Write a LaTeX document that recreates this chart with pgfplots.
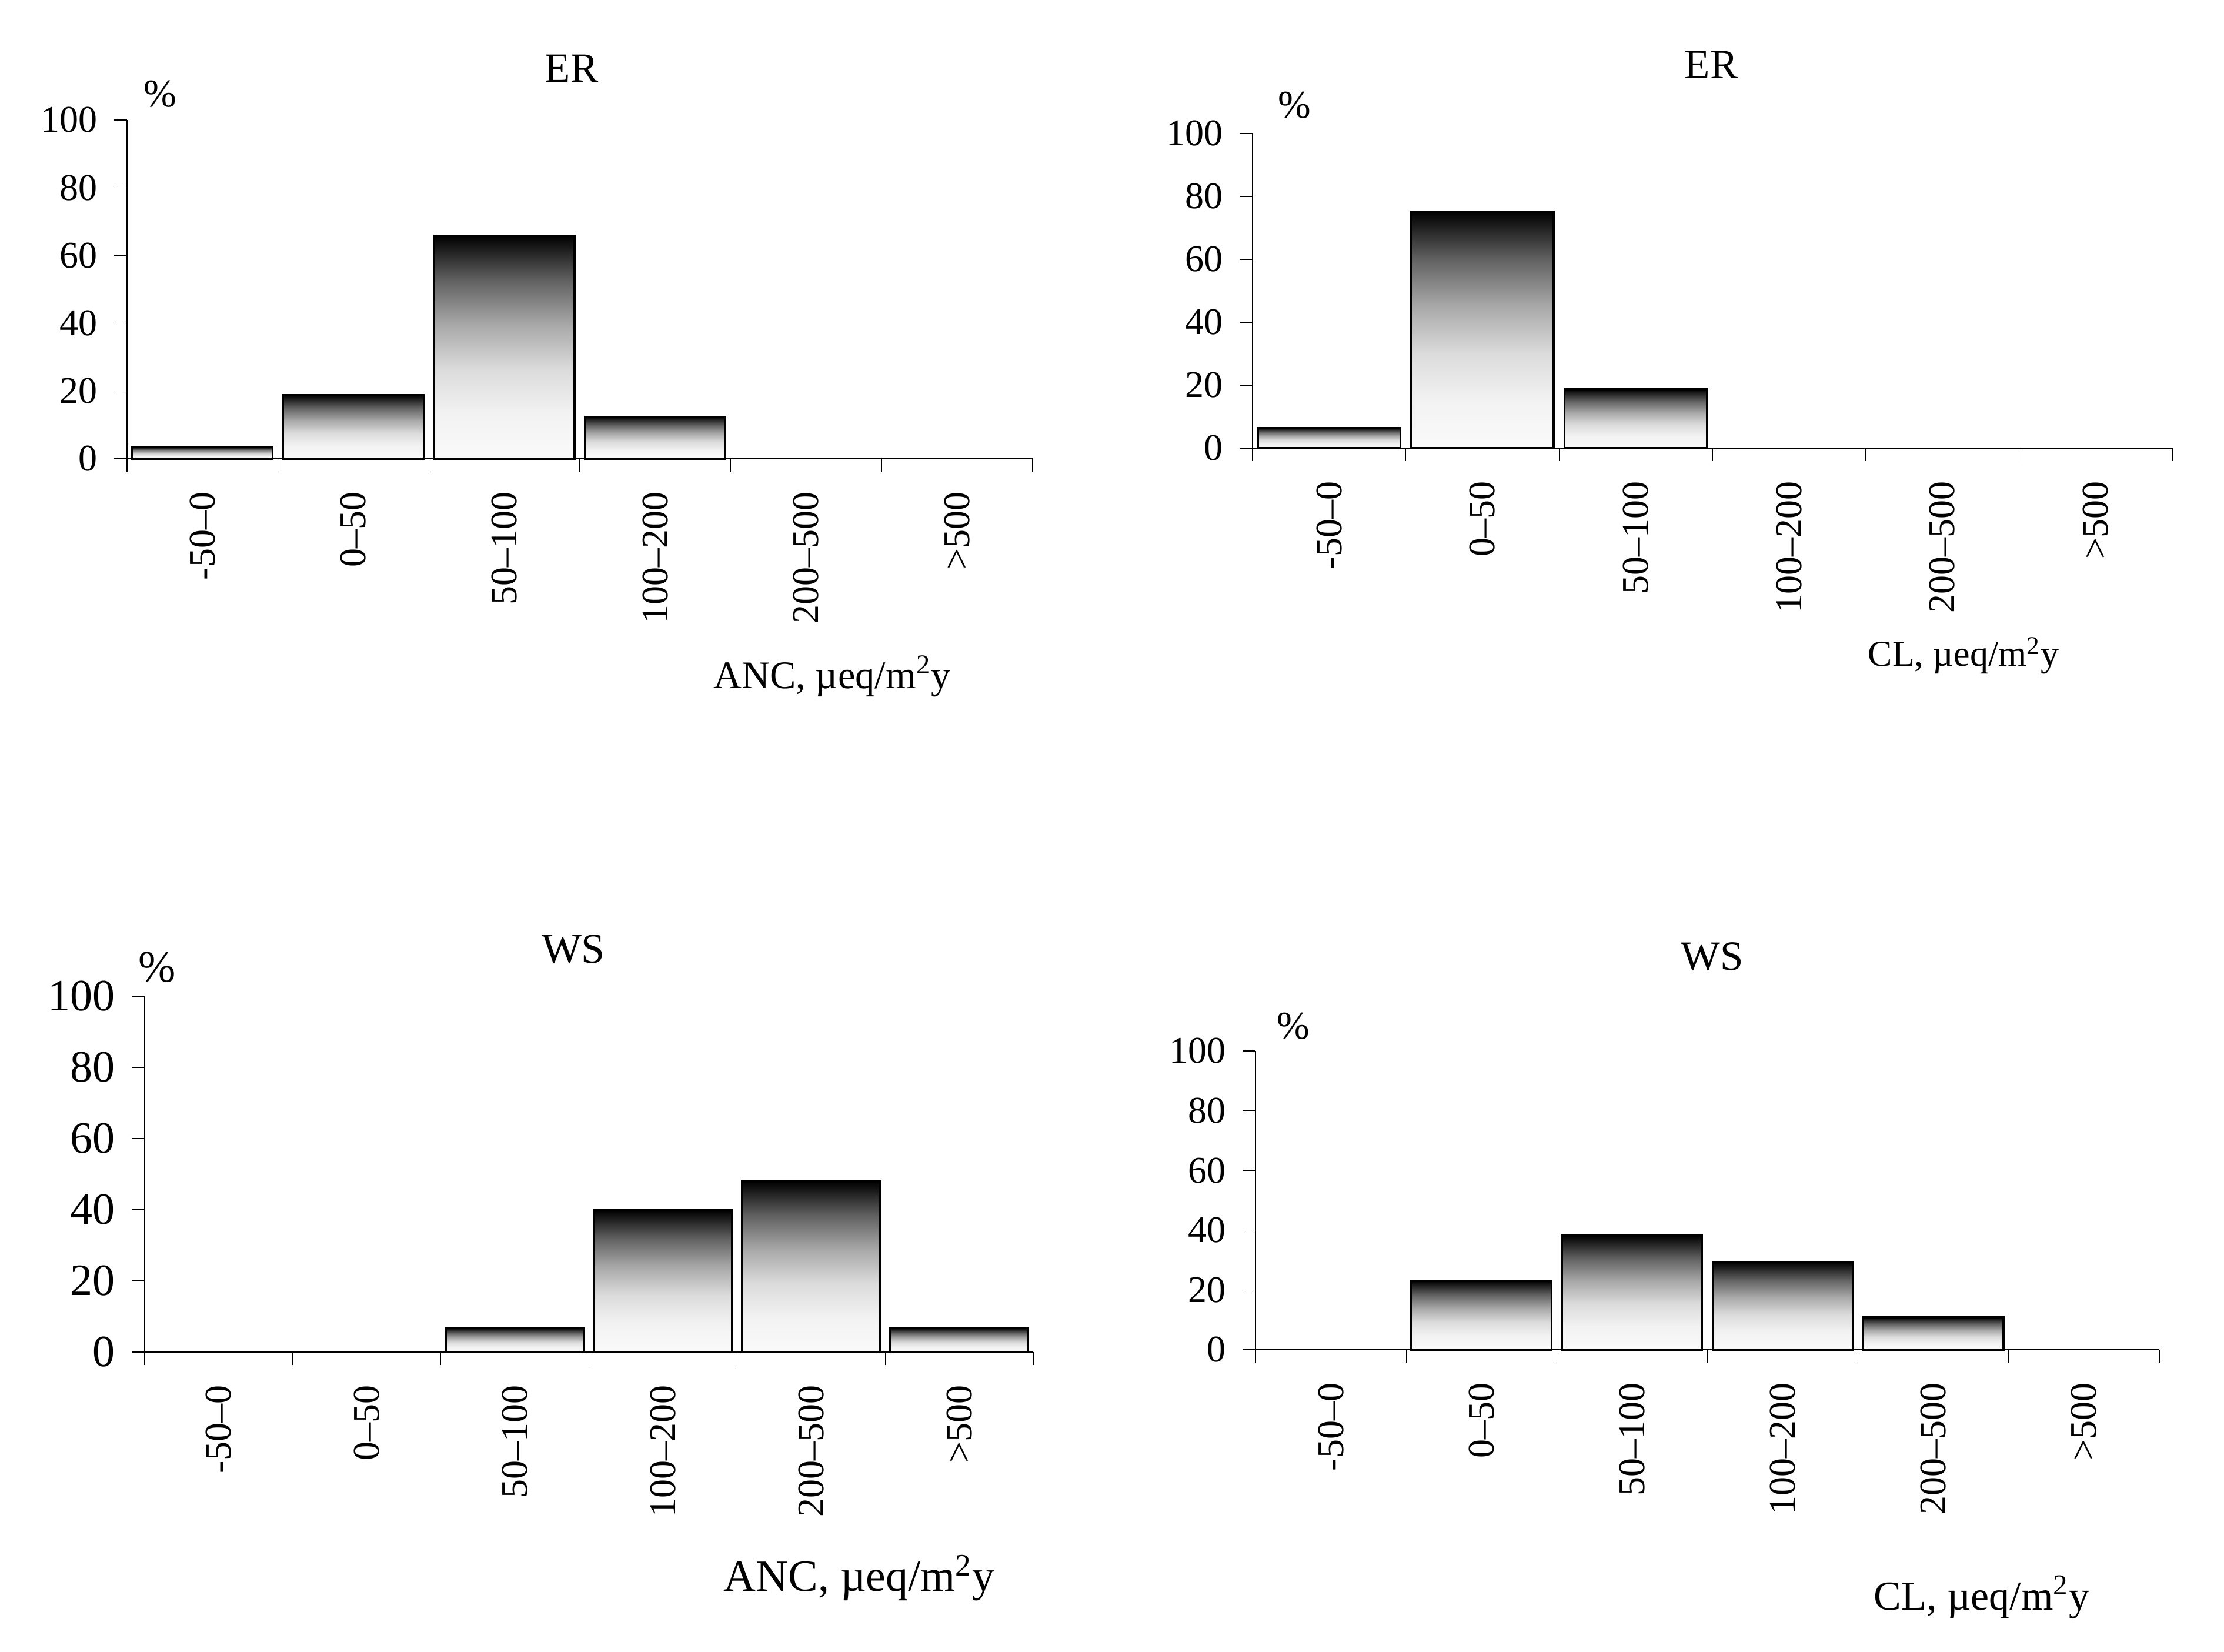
\documentclass[border=0pt]{standalone}
\usepackage{pgfplots}
\pgfplotsset{compat=1.18}
\usepackage{fontspec}
\setmainfont{Liberation Serif}
\pgfdeclareverticalshading{bargrad}{100bp}{color(0bp)=(black!2); color(25bp)=(black!2); color(35bp)=(black!5); color(45bp)=(black!14); color(55bp)=(black!34); color(65bp)=(black!62); color(75bp)=(black); color(100bp)=(black)}
\pgfplotsset{
  hist/.style={
    scale only axis, axis lines*=left,
    xmin=-0.5, xmax=5.5, ymin=0, ymax=100,
    ytick={0,20,...,100}, tick align=outside, major tick length=5.6pt,
    axis line style={line width=0.5pt},
    every tick/.style={line width=0.3pt, black},
    /pgf/number format/assume math mode=true,
    xtick={-0.5,0.5,...,5.5}, xticklabels={{},{},{},{},{},{},{}},
    extra x ticks={0,1,2,3,4,5},
    extra x tick labels={-50–0,0–50,50–100,100–200,200–500,>500},
    extra x tick style={major tick length=0pt,
      xticklabel style={yshift=-14pt, rotate=90, anchor=east, inner sep=0pt,
        font=\fontsize{16}{19}\selectfont}},
    yticklabel style={font=\fontsize{16}{19}\selectfont, xshift=-3.5pt},
    clip=false,
  },
  bars/.style={ybar, bar shift=0pt, bar width=0.93, draw=black, line width=0.9pt, shade, shading=bargrad},
}
\begin{document}
\begin{tikzpicture}
\path[use as bounding box] (0,0) rectangle (945.5pt,702pt);
% Panel 1: ER, ANC  (200-500 and >500: 0)
\begin{axis}[hist, at={(54pt,507pt)}, anchor=south west, width=385pt, height=144pt]
\addplot[bars] coordinates {(0,3.4)};
\addplot[bars] coordinates {(1,18.8)};
\addplot[bars] coordinates {(2,65.9)};
\addplot[bars] coordinates {(3,12.4)};
\end{axis}
% Panel 2: ER, CL  (100-200, 200-500, >500: 0)
\begin{axis}[hist, at={(532.5pt,511.5pt)}, anchor=south west, width=391pt, height=133.75pt]
\addplot[bars] coordinates {(0,6.4)};
\addplot[bars] coordinates {(1,75.2)};
\addplot[bars] coordinates {(2,18.7)};
\end{axis}
% Panel 3: WS, ANC  (-50-0 and 0-50: 0)
\begin{axis}[hist, at={(61.5pt,127.25pt)}, anchor=south west, width=377.75pt, height=151.25pt,
  yticklabel style={font=\fontsize{19}{22}\selectfont}]
\addplot[bars] coordinates {(2,6.7)};
\addplot[bars] coordinates {(3,39.9)};
\addplot[bars] coordinates {(4,48.0)};
\addplot[bars] coordinates {(5,6.7)};
\end{axis}
% Panel 4: WS, CL  (-50-0 and >500: 0)
\begin{axis}[hist, at={(533.75pt,128.25pt)}, anchor=south west, width=384.25pt, height=127pt]
\addplot[bars] coordinates {(1,23.0)};
\addplot[bars] coordinates {(2,38.2)};
\addplot[bars] coordinates {(3,29.3)};
\addplot[bars] coordinates {(4,10.8)};
\end{axis}
% titles
\node[anchor=base, font=\fontsize{17.7}{20}\selectfont] at (243pt,667pt) {ER};
\node[anchor=base, font=\fontsize{17.7}{20}\selectfont] at (727.5pt,668.5pt) {ER};
\node[anchor=base, font=\fontsize{18}{20}\selectfont] at (243.75pt,292.5pt) {WS};
\node[anchor=base, font=\fontsize{17.7}{20}\selectfont] at (728pt,289.5pt) {WS};
% percent signs
\node[font=\fontsize{16.7}{19}\selectfont] at (68pt,662pt) {\%};
\node[font=\fontsize{16.7}{19}\selectfont] at (550.25pt,657.25pt) {\%};
\node[font=\fontsize{19}{22}\selectfont] at (66.75pt,290.75pt) {\%};
\node[font=\fontsize{16.7}{19}\selectfont] at (549.75pt,265.75pt) {\%};
% x labels
\node[anchor=base, font=\fontsize{16.6}{19}\selectfont] at (353.75pt,409.25pt) {ANC, µeq/m\textsuperscript{2}y};
\node[anchor=base, font=\fontsize{15.5}{18}\selectfont] at (834.75pt,418.75pt) {CL, µeq/m\textsuperscript{2}y};
\node[anchor=base, font=\fontsize{19}{22}\selectfont] at (365.25pt,25.75pt) {ANC, µeq/m\textsuperscript{2}y};
\node[anchor=base, font=\fontsize{17.5}{20}\selectfont] at (842.5pt,17.75pt) {CL, µeq/m\textsuperscript{2}y};
\end{tikzpicture}
\end{document}
